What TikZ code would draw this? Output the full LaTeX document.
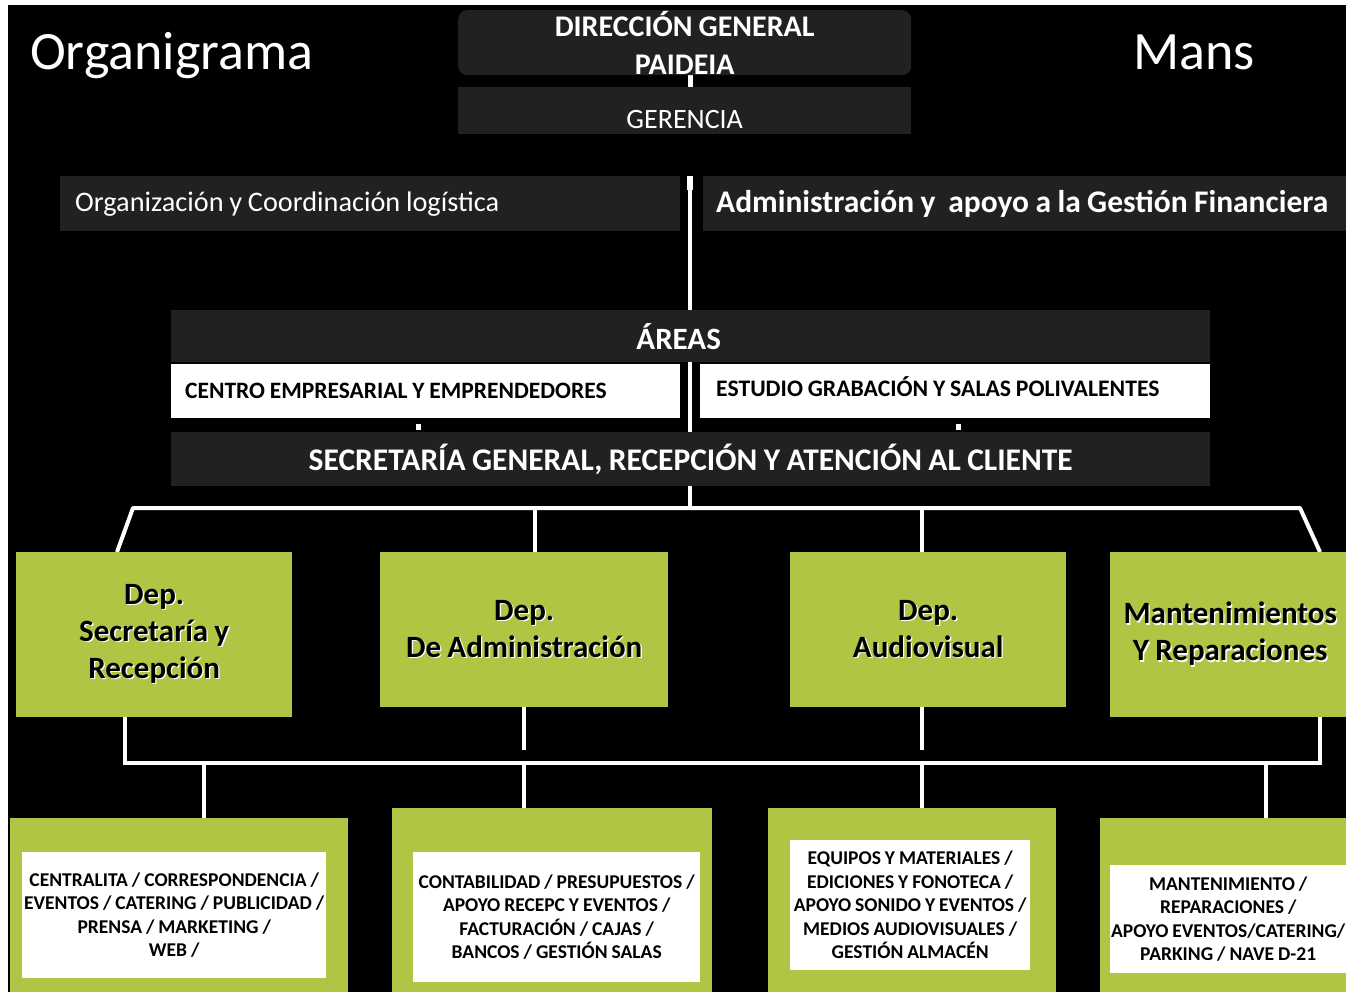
\documentclass[tikz,border=0pt]{standalone}
\usepackage{fontspec}
\setmainfont{Carlito}[WordSpace=0.9]
\usetikzlibrary{calc,backgrounds}
\definecolor{boxgray}{RGB}{33,33,33}
\definecolor{depgreen}{RGB}{177,196,67}
\newcommand{\fsz}[2]{\fontsize{#1}{#2}\selectfont}
\newcommand{\halo}[1]{\leavevmode\rlap{\kern1.3pt\raisebox{-1.3pt}{\color{white}#1}}#1}
\begin{document}
\begin{tikzpicture}[
		x=1pt,y=-1pt,
		link/.style={draw=white,line width=4pt},
		darkbox/.style={fill=boxgray,text=white,inner sep=0pt,anchor=north west},
		whitebox/.style={fill=white,text=black,inner sep=0pt,anchor=north west,align=flush left,minimum height=54pt},
		depbox/.style={fill=depgreen,text=black,inner sep=0pt,anchor=north west,align=flush center,font=\bfseries\fsz{31}{37}},
		greenbox/.style={fill=depgreen,inner sep=0pt,anchor=north west},
		listbox/.style={fill=white,text=black,inner sep=0pt,anchor=north west,align=flush center,font=\bfseries\fsz{19.5}{23.5}}
		]
		\useasboundingbox (0,0) rectangle (1346,995);
		\node[text=white,inner sep=0pt,anchor=base west,font=\fsz{54}{60}] (title) at (30,70) {Organigrama};
		\node[text=white,inner sep=0pt,anchor=base west,font=\fsz{54}{60}] (mans) at (1133,70) {Mans};
		% top of the chart
		\node[darkbox,rounded corners=9pt,minimum width=453pt,minimum height=65pt,align=flush center,font=\bfseries\fsz{30}{38}] (dirgen) at (458,10) {DIRECCIÓN GENERAL\\PAIDEIA};
		\node[darkbox,minimum width=453pt,minimum height=47pt,text height=36pt,text depth=0pt,font=\fsz{28}{30}] (ger) at (458,87) {GERENCIA};
		\node[darkbox,text width=590pt,inner xsep=15pt,minimum height=55pt,align=flush left,font=\fsz{28.3}{30}] (org) at (60,176) {Organización y Coordinación logística};
		\node[darkbox,text width=630pt,inner xsep=13pt,minimum height=55pt,align=flush left,font=\bfseries\fsz{31.5}{33}] (adm) at (703,176) {Administración y~ apoyo a la Gestión Financiera};
		% areas
		\node[darkbox,minimum width=1039pt,minimum height=52pt,font=\bfseries\fsz{31}{32}] (areas) at (171,310) {ÁREAS\hspace*{24pt}};
		\node[whitebox,text width=481pt,inner xsep=14pt,font=\bfseries\fsz{23.5}{25}] (centro) at (171,364) {CENTRO EMPRESARIAL Y EMPRENDEDORES};
		\node[whitebox,text width=478pt,inner xsep=16pt,text depth=10pt,font=\bfseries\fsz{23.7}{25}] (estudio) at (700,364) {ESTUDIO GRABACIÓN Y SALAS POLIVALENTES};
		\node[darkbox,minimum width=1039pt,minimum height=54pt,font=\bfseries\fsz{31.5}{34}] (secr) at (171,432) {SECRETARÍA GENERAL, RECEPCIÓN Y ATENCIÓN AL CLIENTE};
		% departments
		\node[depbox,minimum width=276pt,minimum height=165pt] (dep1) at (16,552) {\halo{Dep.}\\\halo{Secretaría y}\\\halo{Recepción}};
		\node[depbox,minimum width=288pt,minimum height=155pt] (dep2) at (380,552) {\halo{Dep.}\\\halo{De Administración}};
		\node[depbox,minimum width=276pt,minimum height=155pt] (dep3) at (790,552) {\halo{Dep.}\\\halo{Audiovisual}};
		\node[depbox,minimum width=240pt,minimum height=165pt] (dep4) at (1110,552) {\halo{Mantenimientos}\\\halo{Y Reparaciones}};
		% tasks
		\node[greenbox,minimum width=338pt,minimum height=174pt] (b1) at (10,818) {};
		\node[greenbox,minimum width=320pt,minimum height=184pt] (b2) at (392,808) {};
		\node[greenbox,minimum width=288pt,minimum height=184pt] (b3) at (768,808) {};
		\node[greenbox,minimum width=246pt,minimum height=174pt] (b4) at (1100,818) {};
		\node[listbox,minimum width=304pt,minimum height=126pt] (l1) at (22,852) {CENTRALITA / CORRESPONDENCIA /\\EVENTOS / CATERING / PUBLICIDAD /\\PRENSA / MARKETING /\\WEB /};
		\node[listbox,minimum width=287pt,minimum height=130pt] (l2) at (413,852) {CONTABILIDAD / PRESUPUESTOS /\\APOYO RECEPC Y EVENTOS /\\FACTURACIÓN / CAJAS /\\BANCOS / GESTIÓN SALAS};
		\node[listbox,minimum width=240pt,minimum height=130pt] (l3) at (790,840) {EQUIPOS Y MATERIALES /\\EDICIONES Y FONOTECA /\\APOYO SONIDO Y EVENTOS /\\MEDIOS AUDIOVISUALES /\\GESTIÓN ALMACÉN};
		\node[listbox,minimum width=236pt,minimum height=108pt] (l4) at (1110,865) {MANTENIMIENTO /\\REPARACIONES /\\APOYO EVENTOS/CATERING/\\PARKING / NAVE D-21};
		\coordinate (spine) at (690,0);
		\coordinate (tl) at (133,508);
		\coordinate (tr) at (1300,508);
		\coordinate (bus) at (0,763);
		\begin{scope}[on background layer]
		\fill[white] (0,0) rectangle (1346,995);
		\fill[black] (8,5) rectangle (1346,992);
		\draw[link,line width=5pt] (dirgen.south -| spine) -- (ger.north -| spine);
		\draw[link] (org.north -| spine) -- (tl -| spine);
		\draw[link,line width=6pt] (org.north -| spine) -- ++(0,14);
		\draw[link,line join=round] ($(dep1.north west)+(101,0)$) -- (tl) -- (tr) -- ($(dep4.north west)+(210,0)$);
		\draw[link] (tl -| 535,0) -- (dep2.north -| 535,0);
		\draw[link] (tl -| 922,0) -- (dep3.north -| 922,0);
		\draw[link] (dep1.south -| 125,0) -- (bus -| 125,0) -- (bus -| 1320,0) -- (dep4.south -| 1320,0);
		\draw[link] (dep2.south) -- ++(0,43);
		\draw[link] (dep3.south -| 922,0) -- ++(0,43);
		\foreach \b/\x in {b1/204,b2/524,b3/922,b4/1266}
		\draw[link] (bus -| \x,0) -- (\b.north -| \x,0);
		\draw[link,line width=5pt] ($(centro.south -| 418,0)+(0,6)$) -- ++(0,6);
		\draw[link,line width=5pt] ($(estudio.south -| 958,0)+(0,6)$) -- ++(0,6);
		\end{scope}
\end{tikzpicture}
\end{document}
